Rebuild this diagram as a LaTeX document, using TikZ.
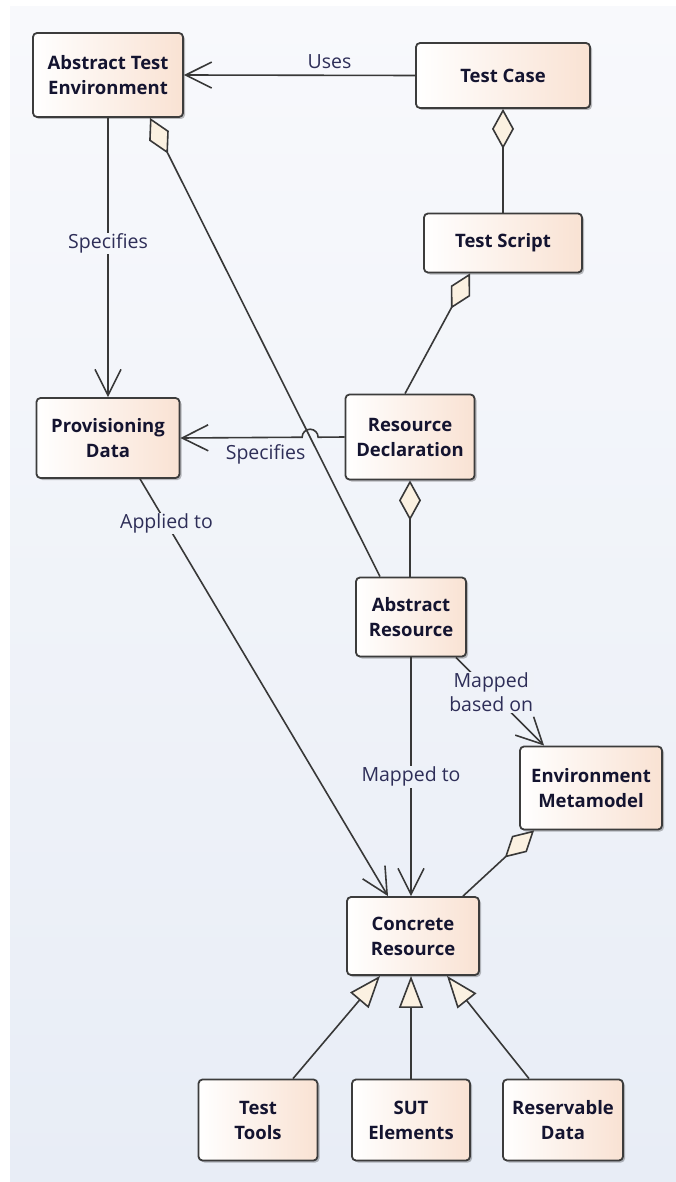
\documentclass[tikz,border=0pt]{standalone}
\usepackage{fontspec}
\setmainfont{Open Sans}
\usetikzlibrary{arrows.meta,shadows}
\definecolor{bgtop}{HTML}{F8F9FC}
\definecolor{bgbot}{HTML}{E8EDF6}
\definecolor{boxpeach}{HTML}{F9E2D3}
\definecolor{boxedge}{HTML}{3C3C3C}
\definecolor{boxtext}{HTML}{141430}
\definecolor{lbltext}{HTML}{2E2E58}
\definecolor{linegray}{HTML}{383838}
\definecolor{tipfill}{HTML}{FBF1E1}
\begin{document}
\begin{tikzpicture}[x=1pt, y=-1pt, line width=1.6pt,
    box/.style = {rectangle, rounded corners=4pt, draw=boxedge, line width=1.8pt,
        left color=white, right color=boxpeach, text=boxtext, align=center, inner sep=0pt,
        drop shadow={shadow xshift=2pt, shadow yshift=-2pt, opacity=0.25, fill=black},
        font=\fontsize{18.5}{25}\selectfont\bfseries},
    lbl/.style = {text=lbltext, align=center, inner sep=1pt, font=\fontsize{19.5}{24}\selectfont},
    uses/.style = {linegray, -{Straight Barb[length=26pt, width=26pt]}},
    agg/.style = {linegray, {Diamond[length=40pt, width=22pt, fill=tipfill]}-},
    gen/.style = {linegray, -{Triangle[length=32pt, width=24pt, fill=tipfill]}}]
    % background
    \useasboundingbox (0,0) rectangle (676,1182);
    \fill[top color=bgtop, bottom color=bgbot] (10,7) rectangle (676,1182);

    % classes
    \node[box, minimum width=150, minimum height=84] (atenv) at (108,75) {Abstract Test\\Environment};
    \node[box, minimum width=174, minimum height=65] (tcase) at (503,75.5) {Test Case};
    \node[box, minimum width=158, minimum height=59] (tscript) at (503,243) {Test Script};
    \node[box, minimum width=143, minimum height=80] (prov) at (108,438) {Provisioning\\Data};
    \node[box, minimum width=129, minimum height=85] (resdecl) at (410,437) {Resource\\Declaration};
    \node[box, minimum width=110, minimum height=79] (absres) at (411,617) {Abstract\\Resource};
    \node[box, minimum width=142, minimum height=83] (envmeta) at (591,788) {Environment\\Metamodel};
    \node[box, minimum width=132, minimum height=78] (concres) at (413,936) {Concrete\\Resource};
    \node[box, minimum width=119, minimum height=81] (tools) at (258,1120) {Test\\Tools};
    \node[box, minimum width=118, minimum height=81] (sut) at (411,1120) {SUT\\Elements};
    \node[box, minimum width=120, minimum height=81] (resdata) at (563,1120) {Reservable\\Data};

    \coordinate (ateout) at ([xshift=42pt]atenv.south);
    \coordinate (absin) at ([xshift=-31pt]absres.north);
    \coordinate (hop) at (intersection of ateout--absin and resdecl.west--prov.east);

    % associations
    \draw[uses] (tcase.west) -- (atenv.east) node[lbl, pos=0.37, above=5pt] (l-uses) {Uses};
    \draw[uses] (atenv.south) -- (prov.north)
        node[lbl, pos=0.45, fill=bgbot!20!bgtop] (l-spec1) {Specifies};
    \draw[uses] (resdecl.west) -- ([xshift=8pt]hop)
        arc[start angle=0, end angle=180, radius=8pt]
        -- (prov.east) node[lbl, pos=0.3, below=5pt] (l-spec2) {Specifies};
    \draw[uses] ([xshift=32pt]prov.south) -- ([xshift=-25pt]concres.north)
        node[lbl, pos=0.107, fill=bgbot!44!bgtop] (l-applied) {Applied to};
    \draw[uses] (absres.south) -- (absres.south |- concres.north)
        node[lbl, midway, fill=bgbot!66!bgtop] (l-mapped) {Mapped to};
    \draw[uses] ([xshift=-11pt]absres.south east) -- ([xshift=25pt]envmeta.north west)
        node[lbl, pos=0.4, fill=bgbot!59!bgtop] (l-based) {Mapped\\based on};

    % aggregations
    \draw[agg] (tcase.south) -- (tscript.north);
    \draw[agg] ([xshift=-33pt]tscript.south) -- ([xshift=-5pt]resdecl.north);
    \draw[agg] (ateout) -- (absin);
    \draw[agg] (resdecl.south) -- (resdecl.south |- absres.north);
    \draw[agg] ([xshift=15pt]envmeta.south west) -- ([xshift=50pt]concres.north);

    % generalizations
    \draw[gen] ([xshift=35pt]tools.north) -- ([xshift=-33pt]concres.south);
    \draw[gen] (sut.north) -- (sut.north |- concres.south);
    \draw[gen] ([xshift=-34pt]resdata.north) -- ([xshift=34pt]concres.south);
\end{tikzpicture}
\end{document}
